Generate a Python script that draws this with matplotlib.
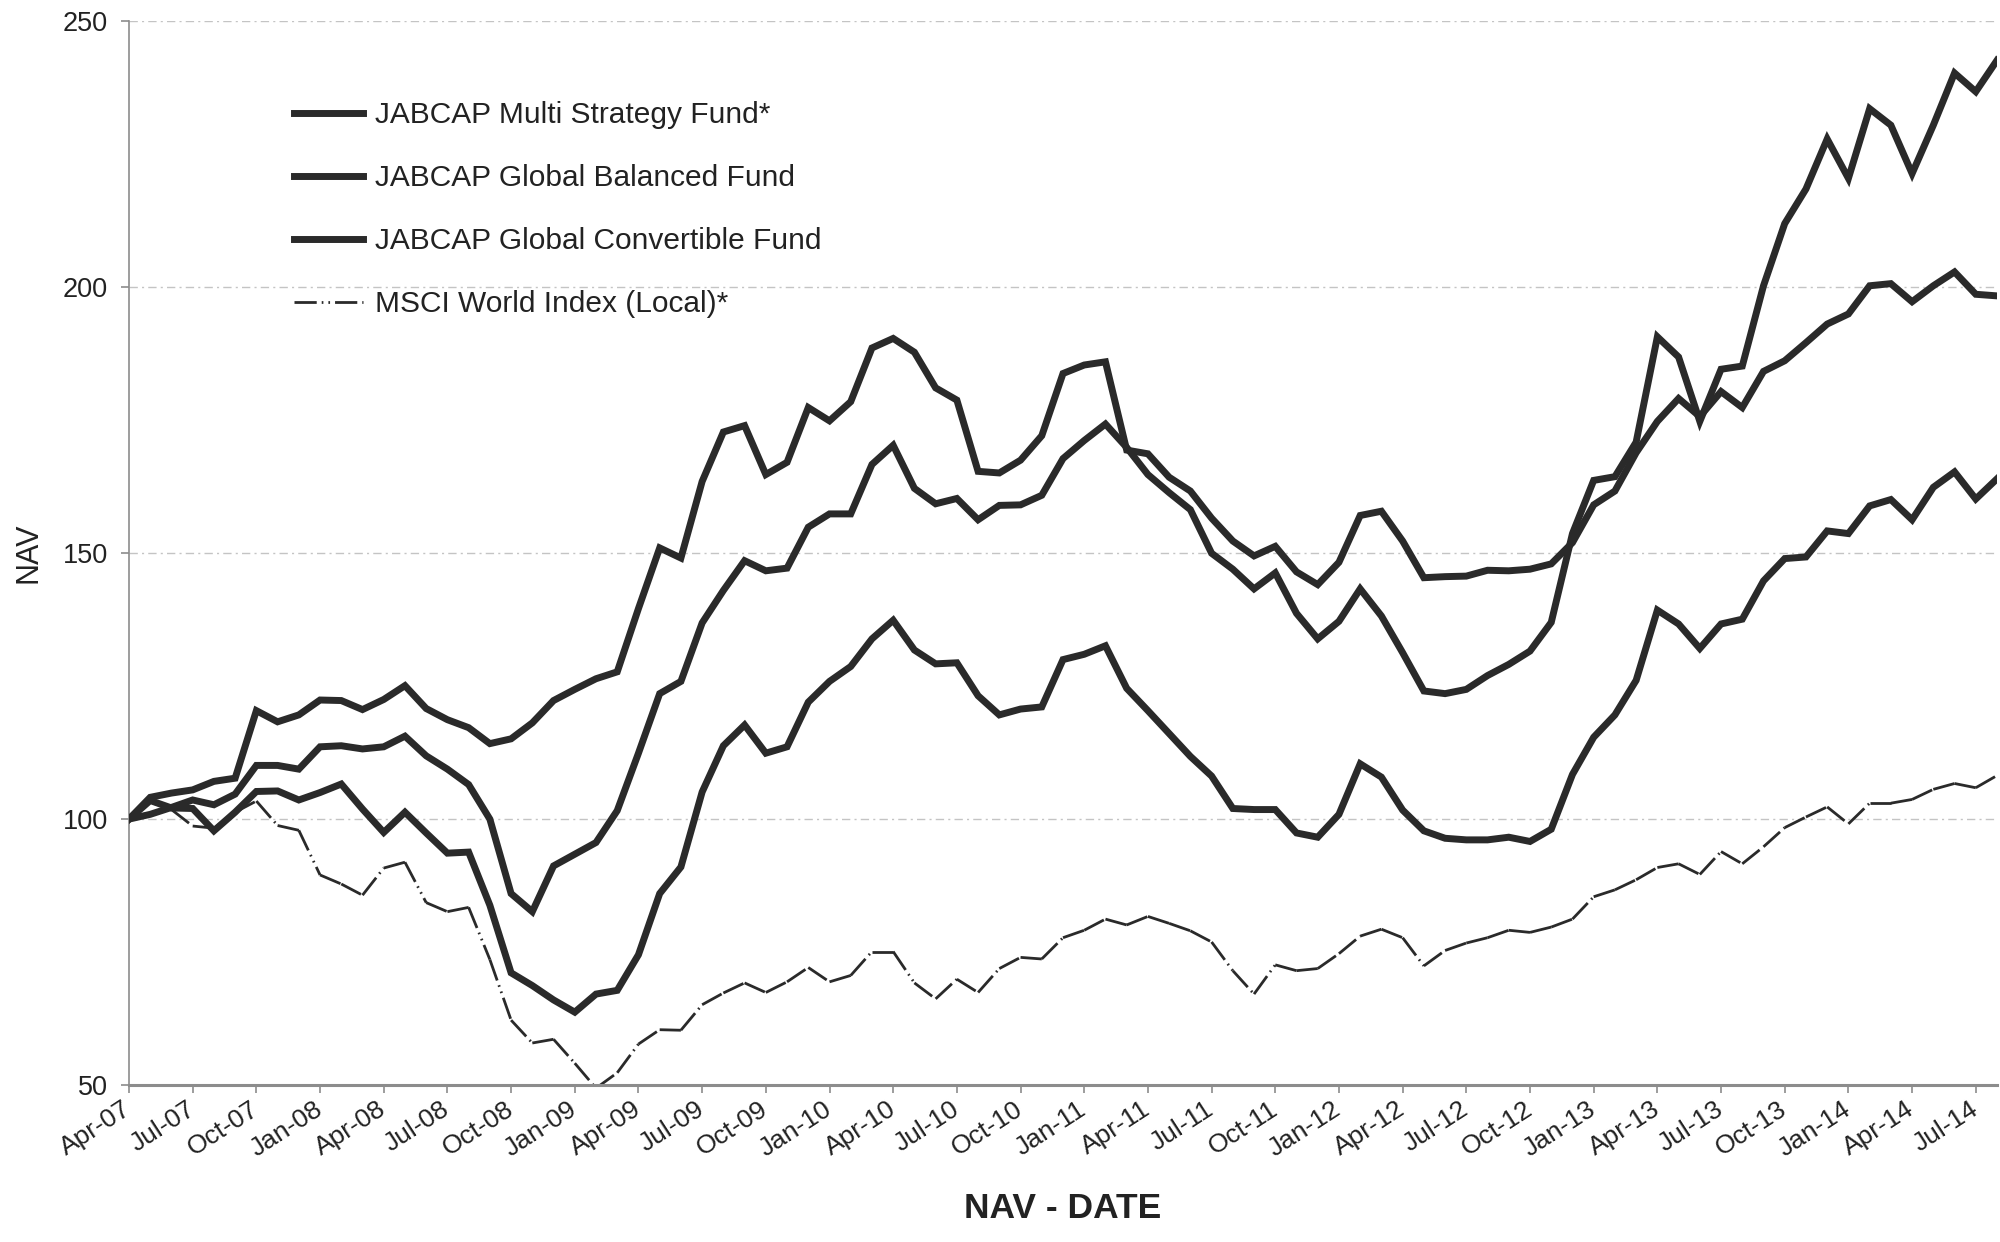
import matplotlib
matplotlib.use('Agg')
import matplotlib.pyplot as plt
from matplotlib.collections import LineCollection
from matplotlib.lines import Line2D
import pandas as pd

plt.rcParams['font.family'] = ['Liberation Sans', 'DejaVu Sans']

# monthly NAV, Apr-07 .. Aug-14 (rebased to 100)
multi_strategy = [
    100.0, 100.9, 102.2, 103.6, 102.7, 104.7, 110.1, 110.1, 109.4, 113.6,
    113.8, 113.2, 113.6, 115.6, 111.9, 109.4, 106.5, 100.0, 86.0, 82.6,
    91.2, 93.4, 95.6, 101.6, 112.4, 123.6, 125.9, 136.9, 143.0, 148.6,
    146.7, 147.2, 154.9, 157.4, 157.4, 166.7, 170.3, 162.2, 159.3, 160.3,
    156.3, 159.0, 159.1, 160.9, 167.8, 171.2, 174.3, 169.9, 164.8, 161.4,
    158.2, 150.0, 147.0, 143.3, 146.3, 138.7, 133.9, 137.2, 143.3, 138.2,
    131.3, 124.1, 123.6, 124.4, 127.0, 129.1, 131.6, 137.0, 153.7, 163.7,
    164.4, 170.9, 190.7, 186.9, 174.8, 184.6, 185.2, 200.3, 212.0, 218.5,
    227.9, 220.5, 233.6, 230.5, 221.4, 230.5, 240.3, 236.8, 242.7,
]
global_balanced = [
    100.0, 104.1, 104.9, 105.5, 107.1, 107.7, 120.4, 118.3, 119.6, 122.4,
    122.3, 120.6, 122.5, 125.1, 120.8, 118.7, 117.2, 114.2, 115.1, 118.1,
    122.3, 124.4, 126.4, 127.7, 139.6, 151.0, 149.1, 163.5, 172.8, 174.0,
    164.8, 167.1, 177.4, 174.9, 178.5, 188.6, 190.4, 187.8, 181.1, 178.8,
    165.4, 165.1, 167.5, 172.1, 183.8, 185.4, 186.0, 169.4, 168.7, 164.3,
    161.7, 156.6, 152.3, 149.5, 151.3, 146.5, 144.1, 148.3, 157.1, 157.9,
    152.3, 145.4, 145.6, 145.7, 146.8, 146.7, 147.0, 148.0, 152.0, 159.1,
    161.7, 168.9, 174.8, 179.1, 175.7, 180.4, 177.4, 184.2, 186.2, 189.6,
    193.1, 195.0, 200.3, 200.7, 197.3, 200.3, 202.9, 198.7, 198.4,
]
global_convertible = [
    100.0, 103.5, 102.1, 102.0, 97.8, 101.3, 105.2, 105.3, 103.6, 105.0,
    106.6, 101.9, 97.5, 101.3, 97.4, 93.6, 93.8, 83.8, 71.1, 68.7,
    66.0, 63.7, 67.1, 67.8, 74.5, 86.0, 91.0, 105.1, 113.8, 117.7,
    112.4, 113.6, 122.0, 125.9, 128.7, 133.9, 137.4, 131.8, 129.2, 129.4,
    123.2, 119.6, 120.7, 121.1, 130.0, 131.0, 132.6, 124.6, 120.4, 116.1,
    111.8, 108.1, 102.0, 101.8, 101.8, 97.4, 96.6, 100.9, 110.4, 107.9,
    101.7, 97.8, 96.4, 96.1, 96.1, 96.6, 95.8, 98.1, 108.4, 115.4,
    119.6, 126.1, 139.3, 136.7, 132.1, 136.7, 137.6, 144.8, 149.0, 149.3,
    154.2, 153.7, 158.9, 160.1, 156.3, 162.4, 165.3, 160.2, 164.0,
]
msci_world = [
    100.0, 103.2, 101.8, 98.7, 98.3, 101.3, 103.4, 98.8, 97.9, 89.5,
    87.8, 85.7, 90.8, 91.9, 84.3, 82.6, 83.4, 73.6, 62.2, 57.9,
    58.6, 54.1, 49.4, 52.3, 57.7, 60.4, 60.3, 65.1, 67.3, 69.2,
    67.4, 69.4, 72.1, 69.4, 70.6, 75.1, 75.1, 69.2, 66.2, 69.9,
    67.4, 71.9, 74.0, 73.7, 77.7, 79.1, 81.2, 80.1, 81.7, 80.4,
    79.0, 76.9, 71.5, 67.1, 72.6, 71.5, 71.9, 74.7, 78.0, 79.3,
    77.7, 72.4, 75.3, 76.7, 77.7, 79.1, 78.7, 79.7, 81.2, 85.4,
    86.7, 88.6, 90.9, 91.6, 89.6, 93.9, 91.6, 94.8, 98.4, 100.4,
    102.3, 99.1, 103.0, 103.0, 103.7, 105.6, 106.7, 105.9, 108.2,
]

dates = pd.date_range('2007-04-01', periods=len(msci_world), freq='MS')
month_labels = [d.strftime('%b-%y') for d in dates]
y_ticks = [50, 100, 150, 200, 250]

LINE = '#2a2a2a'
GREY = '#8c8c8c'
TXT = '#222222'
MSCI_STYLE = (0, (8, 1.8, 0.6, 1.8, 0.6, 1.8))

fig = plt.figure(figsize=(20, 12.42), dpi=100)
ax = fig.add_axes([0.0645, 0.1264, 0.934, 0.8563])

x = list(range(len(dates)))

# index line: dash pattern restarts on every monthly segment (as in Excel)
segs = [[(x[k], msci_world[k]), (x[k + 1], msci_world[k + 1])]
        for k in range(len(x) - 1)]
ax.add_collection(LineCollection(segs, colors=LINE, linewidths=2.0,
                                 linestyles=[MSCI_STYLE], capstyle='butt',
                                 zorder=2))

for series in (global_convertible, global_balanced, multi_strategy):
    ax.plot(x, series, color=LINE, lw=5, solid_joinstyle='miter', zorder=3)

ax.set_xlim(0, len(dates) - 1)
ax.set_ylim(50, 250)
ax.set_yticks(y_ticks)
ax.set_xticks(x[::3])
ax.set_xticklabels(month_labels[::3], rotation=33, ha='right', va='center',
                   rotation_mode='anchor')

for yv in y_ticks[1:]:
    ax.axhline(yv, color='#c4c4c4', lw=1.0, dashes=(6, 3, 1.5, 3), zorder=1)

for side in ('top', 'right'):
    ax.spines[side].set_visible(False)
ax.spines['left'].set_color(GREY)
ax.spines['left'].set_linewidth(1.2)
ax.spines['bottom'].set_color(GREY)
ax.spines['bottom'].set_linewidth(2.2)

ax.tick_params(axis='x', direction='out', length=6, width=1.2, color=GREY,
               labelsize=19, pad=10, labelcolor=TXT)
ax.tick_params(axis='y', direction='out', length=6, width=1.2, color=GREY,
               labelsize=19.5, pad=9, labelcolor=TXT)

ax.set_ylabel('NAV', fontsize=22, color=TXT, va='center')
ax.yaxis.set_label_coords(-0.054, 0.5)
ax.set_xlabel('NAV - DATE', fontsize=25.5, fontweight='bold', color=TXT,
              va='center')
ax.xaxis.set_label_coords(0.5, -0.1157)

names = ['JABCAP Multi Strategy Fund*', 'JABCAP Global Balanced Fund',
         'JABCAP Global Convertible Fund', 'MSCI World Index (Local)*']
proxies = [Line2D([], [], color=LINE, lw=5) for _ in range(3)]
proxies.append(Line2D([], [], color=LINE, lw=2.0, linestyle=MSCI_STYLE))
ax.legend(proxies, names, loc='upper left', bbox_to_anchor=(0.0805, 0.939),
          frameon=False, fontsize=21.5, handlelength=2.3, handletextpad=0.4,
          labelspacing=1.17, borderpad=0, labelcolor=TXT)

fig.savefig('out.png', dpi=100, facecolor='white')
